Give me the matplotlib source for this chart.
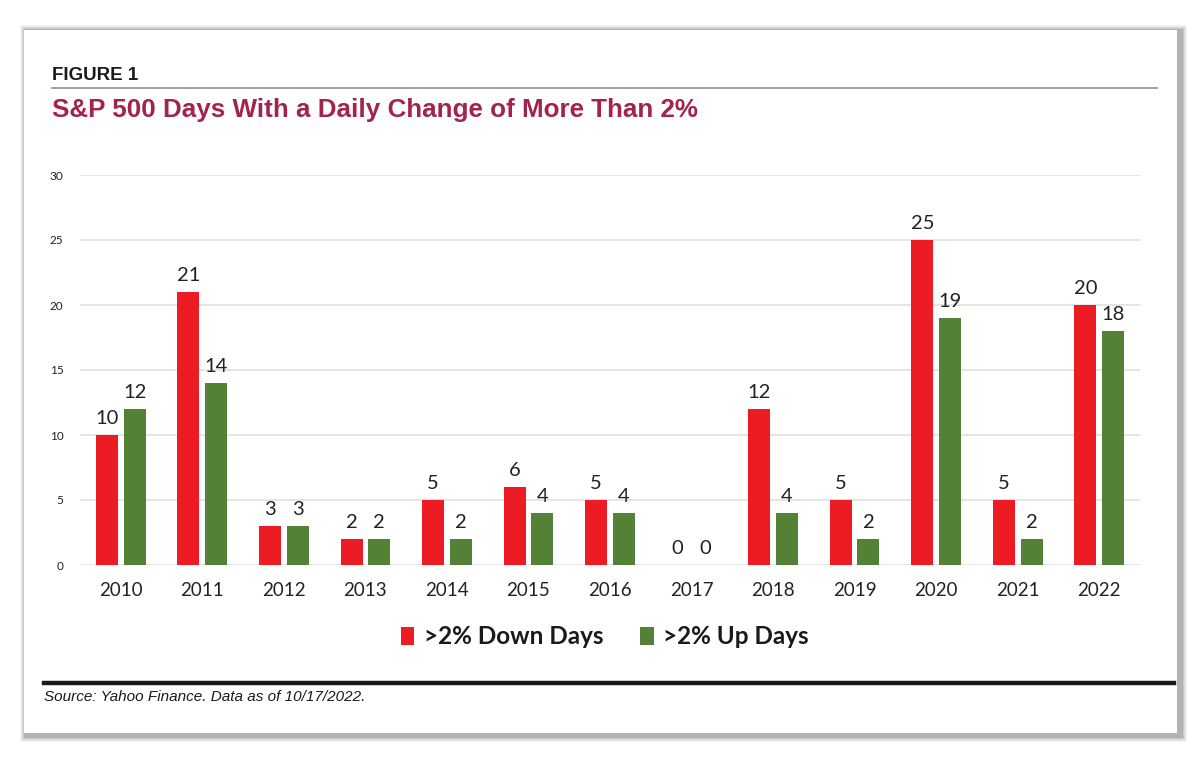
import matplotlib.pyplot as plt
from matplotlib.patches import Rectangle
import numpy as np

years = ['2010', '2011', '2012', '2013', '2014', '2015', '2016',
         '2017', '2018', '2019', '2020', '2021', '2022']
down_days = [10, 21, 3, 2, 5, 6, 5, 0, 12, 5, 25, 5, 20]
up_days = [12, 14, 3, 2, 2, 4, 4, 0, 4, 2, 19, 2, 18]
y_ticks = [0, 5, 10, 15, 20, 25, 30]

RED = '#ED1C24'
GREEN = '#538135'
TITLE = '#A3224E'
W, H = 1200, 762

head_font = ['Liberation Sans Narrow', 'Liberation Sans', 'DejaVu Sans']
body_font = ['Lato', 'DejaVu Sans']

fig = plt.figure(figsize=(12, 7.62), dpi=100)
fig.patch.set_facecolor('white')

def fx(px):
    return px / W

def fy(py):
    return 1 - py / H

# card shadow and card
card = (24, 30, 1177, 733)
for i, a in enumerate([0.04, 0.05, 0.06, 0.08, 0.10]):
    g = 7 - i
    fig.patches.append(Rectangle((fx(card[0] - g + 3), fy(card[3] + g + 2)),
                                 fx(card[2] - card[0] + 2 * g), (card[3] - card[1] + 2 * g) / H,
                                 transform=fig.transFigure, color='black', alpha=a, lw=0, zorder=0))
fig.patches.append(Rectangle((fx(card[0]), fy(card[3])), fx(card[2] - card[0]),
                             (card[3] - card[1]) / H, transform=fig.transFigure,
                             facecolor='white', edgecolor='none', zorder=1))

# header
fig.text(fx(52), fy(75), 'FIGURE 1', fontsize=13.5, fontweight='bold', family=head_font,
         color='#1a1a1a', va='center', ha='left', zorder=3)
fig.add_artist(plt.Line2D([fx(52), fx(1157)], [fy(88), fy(88)], color='#9a9a9a', lw=1.3, zorder=3))
fig.text(fx(52), fy(110), 'S&P 500 Days With a Daily Change of More Than 2%', fontsize=18.7,
         fontweight='bold', family=head_font, color=TITLE, va='center', ha='left', zorder=3)

# chart
ax = fig.add_axes([fx(80), fy(565), fx(1140 - 80), (565 - 175) / H], zorder=2)
ax.set_facecolor('none')
x = np.arange(len(years))
off = 0.17
bw = 0.27
b1 = ax.bar(x - off, down_days, bw, color=RED, label='>2% Down Days', zorder=3)
b2 = ax.bar(x + off, up_days, bw, color=GREEN, label='>2% Up Days', zorder=3)
for bars in (b1, b2):
    ax.bar_label(bars, padding=6, fontsize=14.5, family=body_font, color='#222222')

ax.set_xlim(-0.5, len(years) - 0.5)
ax.set_ylim(0, 30)
ax.set_yticks(y_ticks)
ax.set_xticks(x)
ax.set_xticklabels(years, fontsize=13.5, family=body_font, color='#222222')
for lab in ax.get_yticklabels():
    lab.set_fontsize(8.5)
    lab.set_family(body_font)
    lab.set_color('#222222')
ax.tick_params(axis='y', length=0, pad=12)
ax.tick_params(axis='x', length=0, pad=12)
ax.grid(axis='y', color='#e0e0e0', lw=1.2, zorder=0)
for s in ax.spines.values():
    s.set_visible(False)

leg = fig.legend(handles=[b1, b2], loc='center', bbox_to_anchor=(fx(605), fy(637)), ncol=2,
                 frameon=False, prop={'family': body_font, 'weight': 'bold', 'size': 17.5},
                 handlelength=0.55, handleheight=0.8, handletextpad=0.4, columnspacing=1.5)
leg.set_zorder(3)
for t in leg.get_texts():
    t.set_color('#1a1a1a')

# footer
fig.add_artist(plt.Line2D([fx(44), fx(1174)], [fy(683), fy(683)], color='#1a1a1a', lw=3.2, zorder=3))
fig.text(fx(44), fy(697), 'Source: Yahoo Finance. Data as of 10/17/2022.', fontsize=11,
         style='italic', family=head_font, color='#1a1a1a', va='center', ha='left', zorder=3)

fig.savefig('out.png', dpi=100, facecolor='white')
